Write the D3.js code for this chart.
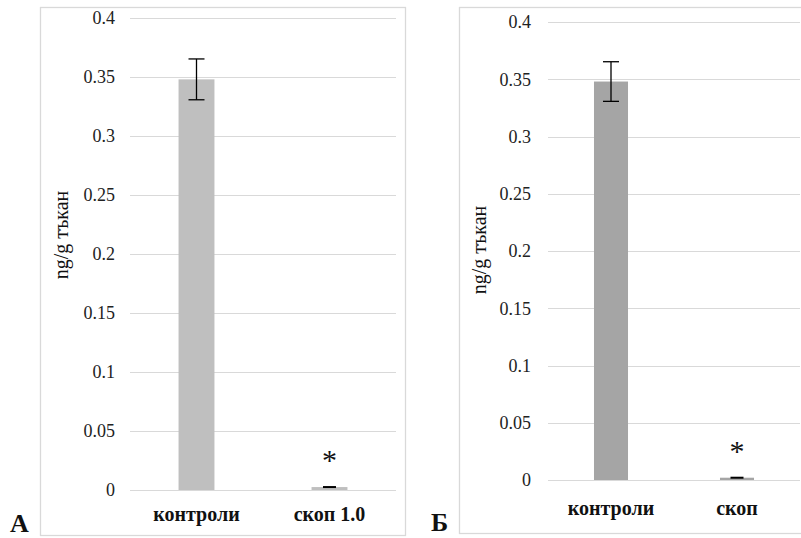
<!DOCTYPE html>
<html><head><meta charset="utf-8">
<script src="https://cdn.jsdelivr.net/npm/d3@7"></script>
<style>body{margin:0;background:#fff}svg{display:block}
svg text{font-family:"Liberation Serif","Times New Roman",Times,Tinos,"DejaVu Serif",serif;}
</style>
</head><body>
<svg id="c" width="801" height="538"></svg>
<script>
// ---- data ----
const categoriesA = ["контроли", "скоп 1.0"];
const valuesA = [0.348, 0.0025];
const errorsA = [0.0173, 0.0004];
const categoriesB = ["контроли", "скоп"];
const valuesB = [0.348, 0.002];
const errorsB = [0.0173, 0.0004];
const significant = [false, true];
const yTicks = [0, 0.05, 0.1, 0.15, 0.2, 0.25, 0.3, 0.35, 0.4];
const yLabel = "ng/g тъкан";
const panelLetters = ["А", "Б"];

const svg = d3.select("#c");

function panel(cfg) {
  const g = svg.append("g");
  // frame
  g.append("rect").attr("x", cfg.frame[0] + 0.5).attr("y", cfg.frame[1] + 0.5)
    .attr("width", cfg.frame[2]).attr("height", cfg.frame[3])
    .attr("fill", "none").attr("stroke", "#d9d9d9").attr("stroke-width", 1.3);

  const x = d3.scaleBand().domain(cfg.cats).range([cfg.left, cfg.right]).paddingInner(0.73).paddingOuter(0.365);
  const y = d3.scaleLinear().domain([0, 0.4]).range([cfg.bottom, cfg.top]);

  // gridlines
  g.append("g").selectAll("line").data(yTicks).join("line")
    .attr("x1", cfg.left).attr("x2", cfg.right)
    .attr("y1", d => Math.round(y(d)) + 0.5).attr("y2", d => Math.round(y(d)) + 0.5)
    .attr("stroke", "#d9d9d9").attr("stroke-width", 1);

  // y axis labels
  const ax = d3.axisLeft(y).tickValues(yTicks).tickFormat(d => String(+d.toFixed(2))).tickSize(0).tickPadding(0);
  const axg = g.append("g").attr("transform", `translate(${cfg.tickX},0)`).call(ax);
  axg.select(".domain").remove();
  axg.attr("font-family", null).attr("font-size", null);
  axg.selectAll("text").attr("font-size", 18).attr("fill", "#222").attr("dy", "0.32em");

  // bars
  g.append("g").selectAll("rect").data(cfg.vals).join("rect")
    .attr("x", (d, i) => x(cfg.cats[i])).attr("width", x.bandwidth())
    .attr("y", d => y(d)).attr("height", d => Math.max(y(0) - y(d), 1.5))
    .attr("fill", cfg.color);

  // error bars
  const eg = g.append("g").attr("stroke", "#000").attr("stroke-width", 1.3);
  cfg.vals.forEach((v, i) => {
    const cx = x(cfg.cats[i]) + x.bandwidth() / 2;
    const e = cfg.errs[i];
    const cap = 8;
    if (y(v - e) - y(v + e) > 3) {
      eg.append("line").attr("x1", cx).attr("x2", cx).attr("y1", y(v + e)).attr("y2", y(v - e));
      eg.append("line").attr("x1", cx - cap).attr("x2", cx + cap).attr("y1", y(v + e)).attr("y2", y(v + e));
      eg.append("line").attr("x1", cx - cap).attr("x2", cx + cap).attr("y1", y(v - e)).attr("y2", y(v - e));
    } else {
      eg.append("line").attr("x1", cx - 6.5).attr("x2", cx + 6.5).attr("y1", y(v)).attr("y2", y(v)).attr("stroke-width", 2);
    }
    if (significant[i]) {
      g.append("text").attr("x", cx).attr("y", y(v) - 17).attr("text-anchor", "middle")
        .attr("font-size", 30).attr("fill", "#111").text("*");
    }
  });

  // category labels
  g.append("g").selectAll("text").data(cfg.cats).join("text")
    .attr("x", d => x(d) + x.bandwidth() / 2).attr("y", cfg.catY)
    .attr("text-anchor", "middle").attr("font-weight", "bold")
    .attr("font-size", 20).attr("fill", "#111").text(d => d);

  // y title
  g.append("text").attr("transform", `translate(${cfg.titleX},${cfg.titleY}) rotate(-90)`)
    .attr("text-anchor", "middle").attr("font-size", 20)
    .attr("fill", "#111").text(yLabel);

  // panel letter
  g.append("text").attr("x", cfg.letterX).attr("y", cfg.letterY)
    .attr("font-weight", "bold").attr("font-size", 26)
    .attr("fill", "#111").text(cfg.letter);
}

panel({
  frame: [40, 7, 365, 528], left: 130, right: 396, top: 18, bottom: 490, tickX: 115,
  cats: categoriesA, vals: valuesA, errs: errorsA, color: "#bfbfbf",
  catY: 521, titleX: 68, titleY: 235, letterX: 10, letterY: 532, letter: panelLetters[0]
});
panel({
  frame: [459, 7, 360, 526], left: 548, right: 800, top: 22, bottom: 480, tickX: 531,
  cats: categoriesB, vals: valuesB, errs: errorsB, color: "#a5a5a5",
  catY: 515, titleX: 486, titleY: 250, letterX: 431, letterY: 531, letter: panelLetters[1]
});
</script>
</body></html>
